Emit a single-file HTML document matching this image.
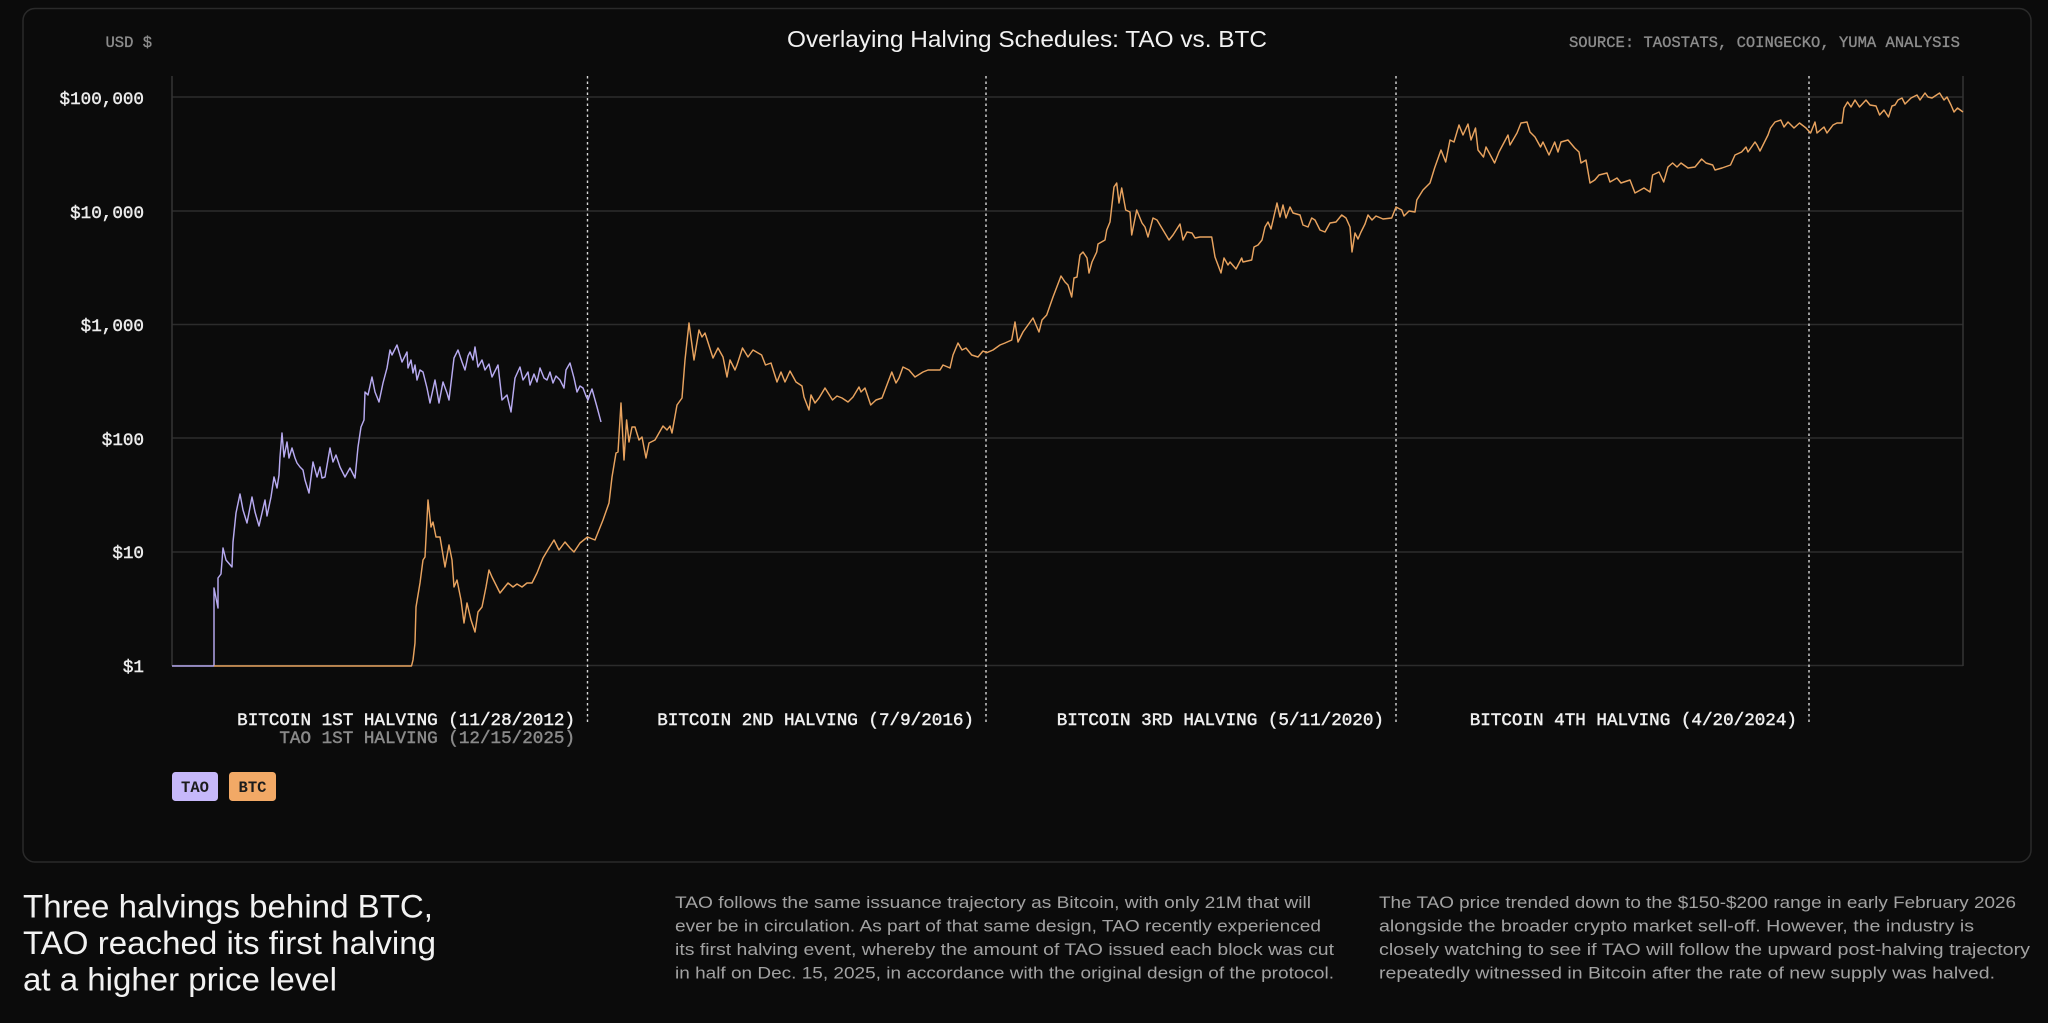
<!DOCTYPE html>
<html><head><meta charset="utf-8">
<style>
html,body{margin:0;padding:0;background:#0b0b0b;}
body{width:2048px;height:1023px;overflow:hidden;}
svg{display:block;}
.mono{font-family:"Liberation Mono","DejaVu Sans Mono",monospace;}
.sans{font-family:"Liberation Sans","DejaVu Sans",sans-serif;}
</style></head>
<body>
<svg width="2048" height="1023" viewBox="0 0 2048 1023" xmlns="http://www.w3.org/2000/svg">
<rect x="0" y="0" width="2048" height="1023" fill="#0b0b0b"/>
<rect x="23" y="8.5" width="2008" height="853.5" rx="12" ry="12" fill="#0b0b0b" stroke="#2a2a2a" stroke-width="1.5"/>

<!-- header -->
<text class="mono" x="152" y="47" font-size="15.5" fill="#8c8c8c" stroke="#8c8c8c" stroke-width="0.35" text-anchor="end">USD $</text>
<text class="sans" x="1027" y="47" font-size="23" fill="#f2f2f2" text-anchor="middle" textLength="480" lengthAdjust="spacingAndGlyphs">Overlaying Halving Schedules: TAO vs. BTC</text>
<text class="mono" x="1960" y="47" font-size="15.5" fill="#8c8c8c" stroke="#8c8c8c" stroke-width="0.35" text-anchor="end" textLength="391" lengthAdjust="spacingAndGlyphs">SOURCE: TAOSTATS, COINGECKO, YUMA ANALYSIS</text>

<!-- grid -->
<g stroke="#2c2c2c" stroke-width="1.5">
<line x1="172" y1="97" x2="1963" y2="97"/>
<line x1="172" y1="211" x2="1963" y2="211"/>
<line x1="172" y1="324.5" x2="1963" y2="324.5"/>
<line x1="172" y1="438" x2="1963" y2="438"/>
<line x1="172" y1="552" x2="1963" y2="552"/>
<line x1="172" y1="665.5" x2="1963" y2="665.5"/>
</g>
<g stroke="#353535" stroke-width="1.5">
<line x1="172" y1="76" x2="172" y2="666"/>
<line x1="1963" y1="76" x2="1963" y2="666"/>
</g>

<!-- y labels -->
<g class="mono" font-size="17.6" fill="#ececec" stroke="#ececec" stroke-width="0.45" text-anchor="end">
<text x="144" y="104">$100,000</text>
<text x="144" y="218">$10,000</text>
<text x="144" y="331">$1,000</text>
<text x="144" y="445">$100</text>
<text x="144" y="558">$10</text>
<text x="144" y="672">$1</text>
</g>

<!-- halving dotted lines -->
<g stroke="#d8d8d8" stroke-width="1.4" stroke-dasharray="2.5,3">
<line x1="587.5" y1="76" x2="587.5" y2="725"/>
<line x1="986" y1="76" x2="986" y2="725"/>
<line x1="1396" y1="76" x2="1396" y2="725"/>
<line x1="1809" y1="76" x2="1809" y2="725"/>
</g>

<!-- TAO series -->
<polyline fill="none" stroke="#b7aaf0" stroke-width="1.45" stroke-linejoin="round" points="172,666 214,666 214,588 218,608 218,578 221,574 223,548 226,560 232,567 233,542 236,513 240,494 243,510 247,523 252,497 255,512 259,526 265,500 267,516 271,497 274,477 277,488 279,475 280,457 282,433 284,457 287,442 289,458 292,448 295,458 297,463 300,467 303,470 305,480 309,493 313,462 317,477 320,467 322,478 325,477 330,448 333,462 336,455 340,467 345,477 350,468 355,478 358,447 361,427 364,420 365,392 368,395 372,377 375,392 379,402 383,383 387,368 390,350 392,355 397,345 402,362 407,352 408,368 411,360 413,373 415,365 417,380 420,370 423,372 427,388 430,403 435,380 439,403 443,382 447,393 449,400 454,358 458,350 462,362 465,370 468,356 470,352 473,360 475,347 478,367 482,360 485,370 489,364 492,377 498,365 502,400 507,395 511,412 515,378 520,367 523,380 525,377 528,372 530,385 534,374 537,382 540,368 544,378 547,380 550,372 553,383 556,376 560,380 564,388 566,370 570,363 574,378 577,392 580,386 583,388 586,396 588,400 590,394 592,389 597,407 601,422"/>

<!-- BTC series -->
<polyline fill="none" stroke="#e8a35f" stroke-width="1.45" stroke-linejoin="round" points="214,666 411.5,666 413,660 415,643 416,607 420,583 423,560 425,557 428,500 431,527 433,522 436,537 440,537 445,567 449,545 452,560 454,587 457,580 461,600 464,623 467,603 471,620 475,632 478,612 482,607 486,587 489,570 492,577 496,585 500,593 504,588 508,583 513,587 517,584 522,587 527,583 532,583 537,573 543,558 549,548 554,540 559,550 565,542 570,548 574,552 580,543 587.5,537 595,540 603,520 609,503 612,477 616,453 618,452 621,403 624,460 626.6,420 629,442 632,427 635,427 639,440 642,437 646,458 649,443 655,440 663,426 667,430 670,426 672,433 677,405 682,398 685,360 689,323 694,360 699,330 702,337 705,333 713,358 718,348 723,357 727,377 730,360 735,370 737,365 742.5,348 748,357 753,350 761.6,355 765.5,365 771,363 777,382 781,372 785,382 790,371 796,382 802,386 804,397 809,410 811,395 815,403 819,398 825,388 832.5,400 837,396 842,398 848,402 853,397 859,387 861,392 865,388 870.7,405 876,400 882,398 891.8,372 896,383 899,378 903,367 909,370 915,377 923,372 928,370 940,370 943,365 950,368 953,355 958,343 962,350 966,348 971.7,355 978,357 983,351 986.7,352.7 993,350 1000,345 1005,343 1011.7,340 1015,322 1018,342 1023,332 1028,325 1033,318 1039,332 1042,320 1046.7,315 1053,297 1061,276 1065,282 1068,285 1071.7,297 1074,278 1077,277 1080,255 1083,252 1087,258 1089,273 1092,262 1096.7,252 1098,244 1105,240 1106.7,230 1110,222 1114,187 1116.7,183 1119,203 1121.7,188 1125.7,210 1130,212 1131.7,235 1136.7,210 1142,223 1145,227 1148,237 1153,218 1157,220 1163,230 1169,240 1173,235 1180,224 1183,240 1187,232 1192,233 1195,238 1200,237 1211.7,237 1215,257 1221,273 1224,258 1228,265 1230,262 1236,269 1241.7,258 1243,262 1251.7,260 1254,247 1258,245 1262,240 1265,227 1268,222 1271,229 1277,203 1280,217 1283,205 1286,218 1290,207 1293,213 1300,215 1303,225 1308,227 1311.7,218 1315,220 1320,230 1325,232 1330,223 1336,222 1341.7,215 1346,218 1350,227 1352,252 1355,233 1358,239 1361,232 1365,224 1368,215 1372,220 1376,216 1383,219 1391.7,218 1396,207 1401.7,210 1404,216 1409,211 1415,212 1416.8,200 1423,190 1430,183 1434.6,168 1441,150 1445.7,162 1450,140 1454,142 1459,125 1463,135 1468,124 1471,140 1475.5,128 1478,150 1483.5,157 1486,147 1494.6,163 1499,152 1508,135 1510,145 1517,133 1521,123 1527,122 1530,132 1535,137 1540.5,147 1543,142 1549,155 1554.7,142 1558,152 1561,142 1568,140 1574.7,148 1579,152 1581,163 1586,160 1590,183 1594.8,180 1599,175 1607,173 1610,182 1617,178 1621,183 1630,180 1635,193 1644,188 1650,192 1652.6,175 1659,172 1663.7,182 1668,167 1672.6,163 1677,167 1681,163 1688,168 1695,167 1701.6,159 1706,163 1712.7,165 1715,170 1722,168 1730.5,165 1735,155 1741.6,152 1746,147 1748,152 1755,142 1757,145 1760,151 1764,143 1768,135 1770.5,128 1775,122 1780.8,120 1784,127 1788,122 1794,128 1799.5,123 1806,128 1810.6,133 1815,122 1817,133 1824,127 1827,133 1833,125 1837,123 1842,123 1844,108 1847.6,102 1851,107 1855,100 1859.5,107 1866,100 1870,105 1876,106 1879.6,115 1884,110 1888.5,117 1892,106 1895,105 1898,100 1902,98 1905,104 1911,98 1917,95 1920,100 1925,93 1928,97 1932,98 1939.6,93 1944,100 1947,97 1951,105 1954,112 1957.5,108 1963,112"/>

<!-- halving labels -->
<g class="mono" font-size="17.6" text-anchor="end" stroke-width="0.45">
<text x="575" y="725" fill="#f0f0f0" stroke="#f0f0f0">BITCOIN 1ST HALVING (11/28/2012)</text>
<text x="575" y="743" fill="#8a8a8a" stroke="#8a8a8a">TAO 1ST HALVING (12/15/2025)</text>
<text x="974" y="725" fill="#f0f0f0" stroke="#f0f0f0">BITCOIN 2ND HALVING (7/9/2016)</text>
<text x="1384" y="725" fill="#f0f0f0" stroke="#f0f0f0">BITCOIN 3RD HALVING (5/11/2020)</text>
<text x="1797" y="725" fill="#f0f0f0" stroke="#f0f0f0">BITCOIN 4TH HALVING (4/20/2024)</text>
</g>

<!-- legend -->
<rect x="172" y="772" width="46" height="29" rx="3.5" fill="#c6b8fa"/>
<rect x="229" y="772" width="47" height="29" rx="3.5" fill="#f2a966"/>
<g class="mono" font-size="15.5" font-weight="bold" fill="#1c1c1c" text-anchor="middle">
<text x="195" y="792">TAO</text>
<text x="252.5" y="792">BTC</text>
</g>

<!-- bottom heading -->
<g class="sans" font-size="32" fill="#f2f2f2">
<text x="23" y="917.5" textLength="410" lengthAdjust="spacingAndGlyphs">Three halvings behind BTC,</text>
<text x="23" y="954" textLength="413" lengthAdjust="spacingAndGlyphs">TAO reached its first halving</text>
<text x="23" y="990.5" textLength="314" lengthAdjust="spacingAndGlyphs">at a higher price level</text>
</g>

<!-- paragraphs -->
<g class="sans" font-size="16.5" fill="#a2a2a2">
<text x="675" y="908" textLength="636" lengthAdjust="spacingAndGlyphs">TAO follows the same issuance trajectory as Bitcoin, with only 21M that will</text>
<text x="675" y="931.5" textLength="646" lengthAdjust="spacingAndGlyphs">ever be in circulation. As part of that same design, TAO recently experienced</text>
<text x="675" y="955" textLength="659" lengthAdjust="spacingAndGlyphs">its first halving event, whereby the amount of TAO issued each block was cut</text>
<text x="675" y="978.5" textLength="659" lengthAdjust="spacingAndGlyphs">in half on Dec. 15, 2025, in accordance with the original design of the protocol.</text>

<text x="1379" y="908" textLength="637" lengthAdjust="spacingAndGlyphs">The TAO price trended down to the $150-$200 range in early February 2026</text>
<text x="1379" y="931.5" textLength="595" lengthAdjust="spacingAndGlyphs">alongside the broader crypto market sell-off. However, the industry is</text>
<text x="1379" y="955" textLength="651" lengthAdjust="spacingAndGlyphs">closely watching to see if TAO will follow the upward post-halving trajectory</text>
<text x="1379" y="978.5" textLength="616" lengthAdjust="spacingAndGlyphs">repeatedly witnessed in Bitcoin after the rate of new supply was halved.</text>
</g>
</svg>
</body></html>
